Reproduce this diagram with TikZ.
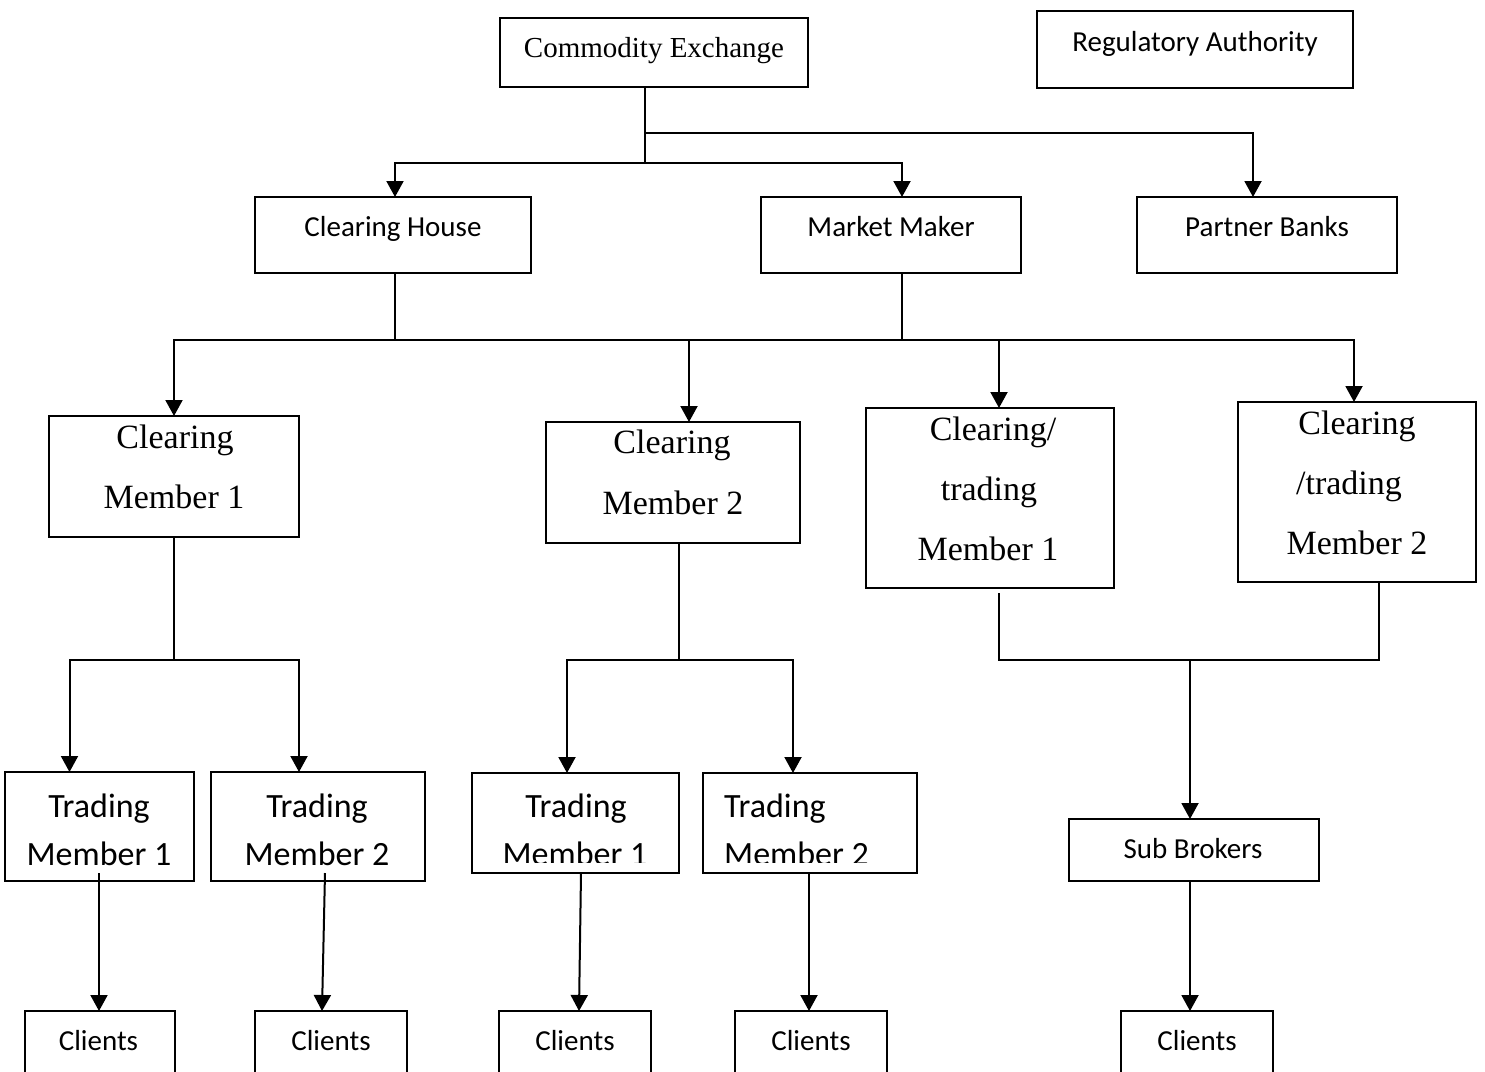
\documentclass[tikz,border=0pt]{standalone}
\usepackage{fontspec}
\setmainfont{Liberation Serif}
\newfontfamily\calfont{Carlito}
\usetikzlibrary{arrows.meta,calc}
\begin{document}
\begin{tikzpicture}[x=1pt,y=-1pt,
  box/.style={draw, line width=2pt, inner sep=0pt, outer sep=0pt},
  link/.style={line width=2pt},
  arr/.style={line width=2pt, -{Triangle[length=16pt,width=17pt]}},
  sanssm/.style={anchor=base, inner sep=0pt, font=\calfont\fontsize{29}{35}\selectfont},
  sanslg/.style={anchor=base, inner sep=0pt, font=\calfont\fontsize{34}{40}\selectfont},
  serifsm/.style={anchor=base, inner sep=0pt, font=\fontsize{29}{35}\selectfont},
  seriflg/.style={anchor=base, inner sep=0pt, font=\fontsize{34}{40}\selectfont}]
\clip (0,0) rectangle (1485,1071);
\fill[white] (0,0) rectangle (1485,1071);

% boxes
\node[box, minimum width=308, minimum height=69] (ce) at (654,52.5) {};
\node[box, minimum width=316, minimum height=77] (ra) at (1195,49.5) {};
\node[box, minimum width=276, minimum height=76] (ch) at (393,235) {};
\node[box, minimum width=260, minimum height=76] (mm) at (891,235) {};
\node[box, minimum width=260, minimum height=76] (pb) at (1267,235) {};
\node[box, minimum width=250, minimum height=121] (cm1) at (174,476.5) {};
\node[box, minimum width=254, minimum height=121] (cm2) at (673,482.5) {};
\node[box, minimum width=248, minimum height=180] (ctm1) at (990,498) {};
\node[box, minimum width=238, minimum height=180] (ctm2) at (1357,492) {};
\node[box, minimum width=189, minimum height=109] (tm1) at (99.5,826.5) {};
\node[box, minimum width=214, minimum height=109] (tm2) at (318,826.5) {};
\node[box, minimum width=207, minimum height=100] (tm3) at (575.5,823) {};
\node[box, minimum width=214, minimum height=100] (tm4) at (810,823) {};
\node[box, minimum width=250, minimum height=62] (sb) at (1194,850) {};
\node[box, minimum width=150, minimum height=89] (cl1) at (100,1055.5) {};
\node[box, minimum width=152, minimum height=89] (cl2) at (331,1055.5) {};
\node[box, minimum width=152, minimum height=89] (cl3) at (575,1055.5) {};
\node[box, minimum width=152, minimum height=89] (cl4) at (811,1055.5) {};
\node[box, minimum width=152, minimum height=89] (cl5) at (1197,1055.5) {};

% labels
\node[serifsm] (tce) at (654,57) {Commodity Exchange};
\node[sanssm] (tra) at (1195,51) {Regulatory Authority};
\node[sanssm] (tch) at (393,236) {Clearing House};
\node[sanssm] (tmm) at (891,236) {Market Maker};
\node[sanssm] (tpb) at (1267,236) {Partner Banks};
\node[seriflg] (tcm1a) at (175,448) {Clearing};
\node[seriflg] (tcm1b) at (174,508) {Member 1};
\node[seriflg] (tcm2a) at (672,453) {Clearing};
\node[seriflg] (tcm2b) at (673,514) {Member 2};
\node[seriflg] (tct1a) at (993,440) {Clearing/};
\node[seriflg] (tct1b) at (989,500) {trading};
\node[seriflg] (tct1c) at (988,560) {Member 1};
\node[seriflg] (tct2a) at (1357,434) {Clearing};
\node[seriflg] (tct2b) at (1349,494) {/trading};
\node[seriflg] (tct2c) at (1357,554) {Member 2};
\node[sanslg] (ttm1a) at (99,817) {Trading};
\node[sanslg] (ttm1b) at (99,865) {Member 1};
\node[sanslg] (ttm2a) at (317,817) {Trading};
\node[sanslg] (ttm2b) at (317,865) {Member 2};
\node[sanslg] (ttm3a) at (576,817) {Trading};
\node[sanslg, anchor=base west] (ttm4a) at (724,817) {Trading};
\begin{scope}
\clip (472,773) rectangle (917,862);
\node[sanslg] (ttm3b) at (575,865) {Member 1};
\node[sanslg, anchor=base west] (ttm4b) at (724,865) {Member 2};
\end{scope}
\node[sanssm] (tsb) at (1193,858) {Sub Brokers};
\node[sanssm] (tcl1) at (98.5,1050) {Clients};
\node[sanssm] (tcl2) at (331,1050) {Clients};
\node[sanssm] (tcl3) at (575,1050) {Clients};
\node[sanssm] (tcl4) at (811,1050) {Clients};
\node[sanssm] (tcl5) at (1197,1050) {Clients};

% junctions
\coordinate (j0) at (645,163);
\coordinate (j0b) at (645,133);
\coordinate (j1) at (689,340);
\coordinate (j2) at (174,660);
\coordinate (j3) at (679,660);
\coordinate (j4) at (1190,660);

% connectors: exchange level
\draw[link] (ce.south -| j0) -- (j0);
\draw[arr] (j0b) -| ($(pb.north)+(-14,0)$);
\draw[arr] (j0) -| ($(ch.north)+(2,0)$);
\draw[arr] (j0) -| ($(mm.north)+(11,0)$);

% clearing house / market maker to members
\draw[link] ($(ch.south)+(2,0)$) |- (j1);
\draw[link] ($(mm.south)+(11,0)$) |- (j1);
\draw[arr] (j1) -| (cm1.north);
\draw[arr] (j1) -- (j1 |- cm2.north);
\draw[arr] (j1) -| ($(ctm1.north)+(9,0)$);
\draw[arr] (j1) -| ($(ctm2.north)+(-3,0)$);

% clearing member 1
\draw[link] (cm1.south) -- (j2);
\draw[arr] (j2) -| ($(tm1.north)+(-30,0)$);
\draw[arr] (j2) -| ($(tm2.north)+(-19,0)$);

% clearing member 2
\draw[link] ($(cm2.south)+(6,0)$) -- (j3);
\draw[arr] (j3) -| ($(tm3.north)+(-8.5,0)$);
\draw[arr] (j3) -| ($(tm4.north)+(-17,0)$);

% clearing/trading members to sub brokers
\draw[link] ($(ctm1.south)+(9,5)$) |- (j4) -| ($(ctm2.south)+(22,0)$);
\draw[arr] (j4) -- (j4 |- sb.north);

% to clients
\draw[arr] ($(tm1.south)+(-0.5,-8)$) -- ($(cl1.north)+(-1,0)$);
\draw[arr] ($(tm2.south)+(7,-8)$) -- ($(cl2.north)+(-9,0)$);
\draw[arr] ($(tm3.south)+(5.5,0)$) -- ($(cl3.north)+(4,0)$);
\draw[arr] ($(tm4.south)+(-1,0)$) -- ($(cl4.north)+(-2,0)$);
\draw[arr] ($(sb.south)+(-4,0)$) -- ($(cl5.north)+(-7,0)$);
\end{tikzpicture}
\end{document}
